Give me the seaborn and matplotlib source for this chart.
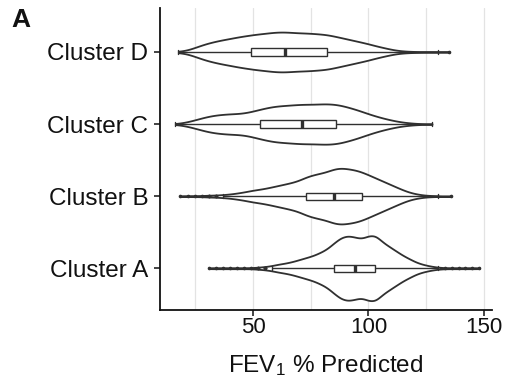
import numpy as np
import pandas as pd
import matplotlib
matplotlib.use("Agg")
import matplotlib.pyplot as plt
import seaborn as sns

clusters = ["Cluster D", "Cluster C", "Cluster B", "Cluster A"]

# FEV1 % predicted values and how many
# patients sit at each value
fev_a = [31, 34, 37, 40, 43, 46, 49, 52, 55, 58, 61, 64, 67, 70, 73, 76, 79, 82, 85, 88,
         91, 94, 97, 100, 103, 106, 109, 112, 115, 118, 121, 124, 127, 130, 133, 136, 139,
         142, 145, 148]
n_a = [1, 1, 1, 1, 1, 1, 1, 2, 3, 5, 8, 10, 13, 17, 21, 25, 31, 38, 50, 61,
       65, 62, 58, 65, 66, 52, 43, 34, 25, 18, 11, 7, 4, 2, 1, 1, 1,
       1, 1, 1]

fev_b = [18.5, 22, 25, 28, 31, 34, 37, 40, 43, 46, 49, 52, 55, 58, 61, 64, 67, 70, 73, 76,
         79, 82, 85, 88, 91, 94, 97, 100, 103, 106, 109, 112, 115, 118, 121, 124, 127, 130,
         135.7]
n_b = [1, 1, 1, 1, 2, 2, 3, 4, 6, 8, 11, 13, 15, 18, 21, 24, 27, 31, 38, 42,
       45, 48, 54, 56, 54, 52, 48, 42, 36, 30, 24, 18, 12, 7, 4, 2, 1, 1,
       1]

fev_c = [16.4, 20, 23, 26, 29, 32, 35, 38, 41, 44, 47, 50, 53, 56, 59, 62, 65, 68, 71, 74,
         77, 80, 83, 86, 89, 92, 95, 98, 101, 104, 107, 110, 113, 116, 119, 123, 127.5]
n_c = [1, 3, 6, 10, 14, 17, 19, 20, 21, 21, 23, 26, 30, 33, 36, 37, 38, 39, 40, 40,
       40, 41, 41, 40, 37, 33, 29, 24, 19, 15, 11, 8, 5, 3, 2, 1, 1]

fev_d = [17.7, 19, 22, 25, 28, 31, 34, 37, 40, 43, 46, 49, 52, 55, 58, 61, 64, 67, 70, 73,
         76, 79, 82, 85, 88, 91, 94, 97, 100, 103, 106, 109, 112, 115, 118, 121, 125, 130,
         135]
n_d = [1, 1, 4, 9, 14, 18, 21, 24, 26, 29, 31, 33, 35, 36, 38, 39, 39, 38, 37, 37,
       36, 35, 34, 31, 28, 25, 22, 19, 16, 12, 9, 6, 3, 2, 1, 1, 1, 1,
       1]

x_ticks = [50, 100, 150]
x_grid = [25, 50, 75, 100, 125, 150]

groups = {"Cluster A": (fev_a, n_a), "Cluster B": (fev_b, n_b),
          "Cluster C": (fev_c, n_c), "Cluster D": (fev_d, n_d)}
rows = []
for name, (vals, counts) in groups.items():
    for v, c in zip(vals, counts):
        rows.extend([(name, v)] * c)
df = pd.DataFrame(rows, columns=["cluster", "fev"])

sns.set_theme(style="white")
plt.rcParams["font.family"] = ["Liberation Sans", "DejaVu Sans"]
plt.rcParams["mathtext.fontset"] = "custom"
plt.rcParams["mathtext.rm"] = "Liberation Sans"
plt.rcParams["mathtext.it"] = "Liberation Sans:italic"
plt.rcParams["mathtext.bf"] = "Liberation Sans:bold"

fig = plt.figure(figsize=(5.08, 3.85), dpi=100)
ax = fig.add_axes([160 / 508, 1 - 310 / 385, (492 - 160) / 508, (310 - 8) / 385])

for g in x_grid:
    ax.axvline(g, color="#e3e3e3", lw=0.9, zorder=0)

line_col = "#303030"
sns.violinplot(data=df, x="fev", y="cluster", order=clusters, orient="h",
               inner=None, cut=0, density_norm="area", width=0.9,
               bw_method=0.13, gridsize=300, color="white", linecolor=line_col,
               linewidth=1.3, ax=ax, zorder=2)
sns.boxplot(data=df, x="fev", y="cluster", order=clusters, orient="h",
            width=0.1, color="white", linecolor=line_col, linewidth=1.0,
            whis=1.5, fliersize=1.6,
            flierprops=dict(marker="o", markerfacecolor=line_col,
                            markeredgecolor=line_col),
            medianprops=dict(linewidth=2.4, color=line_col),
            ax=ax, zorder=3)

ax.set_xlim(9.7, 153.5)
ax.set_ylim(3.58, -0.61)
ax.set_xticks(x_ticks)
ax.set_xticklabels([str(t) for t in x_ticks])
ax.set_ylabel("")
ax.set_xlabel("FEV$_1$ % Predicted", fontsize=17.5, color="#111111", labelpad=11)
ax.tick_params(axis="x", labelsize=16, pad=1)
ax.tick_params(axis="y", labelsize=17.5, pad=4.5)
ax.tick_params(axis="both", labelcolor="#111111", length=4, width=1.1,
               color="#111111", direction="out", bottom=True, left=True)
for s in ["top", "right"]:
    ax.spines[s].set_visible(False)
for s in ["left", "bottom"]:
    ax.spines[s].set_color("#111111")
    ax.spines[s].set_linewidth(1.3)
ax.grid(False)

fig.text(11 / 508, 1 - 8 / 385, "A", fontsize=19, fontweight="bold",
         va="top", ha="left", color="#111111")

fig.savefig("out.png", dpi=100)
